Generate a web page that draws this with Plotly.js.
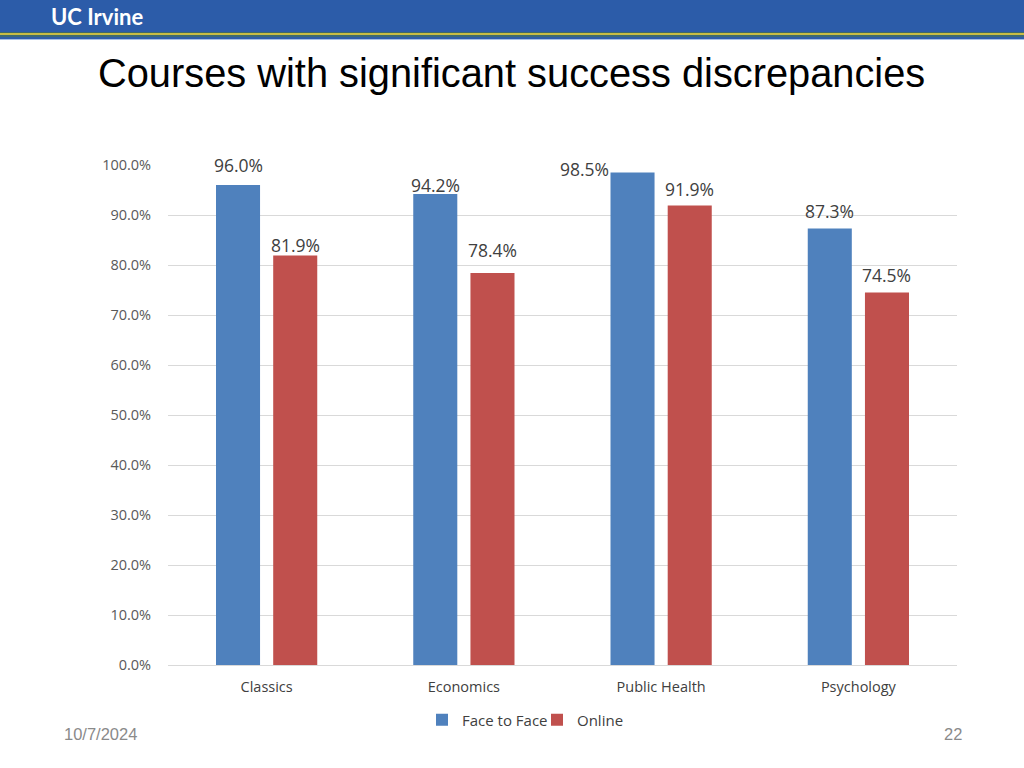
<!DOCTYPE html>
<html>
<head>
<meta charset="utf-8">
<script src="https://cdn.plot.ly/plotly-3.0.1.min.js"></script>
<style>html,body{margin:0;padding:0;background:#fff;}#chart{width:1024px;height:768px;}</style>
</head>
<body>
<div id="chart"></div>
<script>
const categories = ["Classics", "Economics", "Public Health", "Psychology"];
const faceToFace = [96.0, 94.2, 98.5, 87.3];
const online = [81.9, 78.4, 91.9, 74.5];
const seriesNames = ["Face to Face", "Online"];
const yTickVals = [0, 10, 20, 30, 40, 50, 60, 70, 80, 90, 100];

const W = 1024, H = 768;
const M = {l: 168, r: 67, t: 165, b: 103};
const pw = W - M.l - M.r, ph = H - M.t - M.b;
const px = x => (x - M.l) / pw;
const py = y => (H - M.b - y) / ph;

const labelFont = {family: "Open Sans, sans-serif", size: 17.5, color: "#404040"};

// label nudges (pixel offsets) to mirror the reference's label placement
const nudge = {
  "0-0": [0, 12], "0-1": [0, 1], "0-2": [-48, -4], "0-3": [0, 10],
  "1-0": [0, 3], "1-1": [0, 15], "1-2": [0, 9], "1-3": [0, 10]
};

const annotations = [];
[faceToFace, online].forEach((vals, s) => {
  vals.forEach((v, i) => {
    const n = nudge[s + "-" + i] || [0, 0];
    annotations.push({
      x: categories[i], y: v, xref: "x", yref: "y",
      text: v.toFixed(1) + "%", showarrow: false,
      xshift: (s === 0 ? -28.5 : 28.5) + n[0], yshift: -6 + n[1],
      yanchor: "bottom", font: labelFont
    });
  });
});

annotations.push({
  xref: "paper", yref: "paper", x: px(49), y: py(17), xanchor: "left", yanchor: "middle",
  text: "<b>UC Irvine</b>", showarrow: false,
  font: {family: "Lato, Open Sans, sans-serif", size: 22, color: "#ffffff"}
});
annotations.push({
  xref: "paper", yref: "paper", x: px(96), y: py(73), xanchor: "left", yanchor: "middle",
  text: "Courses with significant success discrepancies", showarrow: false,
  font: {family: "Liberation Sans, Arial, sans-serif", size: 39.8, color: "#000000"}
});
annotations.push({
  xref: "paper", yref: "paper", x: px(100), y: py(734), xanchor: "center", yanchor: "middle",
  text: "10/7/2024", showarrow: false,
  font: {family: "Liberation Sans, Arial, sans-serif", size: 16.5, color: "#8a8a8a"}
});
annotations.push({
  xref: "paper", yref: "paper", x: px(953), y: py(734), xanchor: "center", yanchor: "middle",
  text: "22", showarrow: false,
  font: {family: "Liberation Sans, Arial, sans-serif", size: 16.5, color: "#8a8a8a"}
});

function band(y0, y1, color) {
  return {type: "rect", xref: "paper", yref: "paper", x0: px(0), x1: px(W), y0: py(y1), y1: py(y0),
          fillcolor: color, line: {width: 0}, layer: "above"};
}
const shapes = [
  band(0, 32, "#2c5ca9"),
  band(32, 33, "#3f6a6a"),
  band(33, 35, "#c8bd45"),
  band(35, 37, "#3e6b73"),
  band(37, 39, "#2f5eab"),
  band(39, 40, "#a9c1e6")
];

const traces = [
  {type: "bar", name: seriesNames[0], x: categories, y: faceToFace, marker: {color: "#4f81bd"}, hoverinfo: "skip"},
  {type: "bar", name: seriesNames[1], x: categories, y: online, marker: {color: "#c0504d"}, hoverinfo: "skip"}
];

const layout = {
  width: W, height: H,
  margin: M,
  paper_bgcolor: "#ffffff", plot_bgcolor: "#ffffff",
  barmode: "group", bargap: 0.42, bargroupgap: 0.23,
  showlegend: true,
  legend: {orientation: "h", x: px(537), y: py(720), xanchor: "center", yanchor: "middle",
           font: {family: "Open Sans, sans-serif", size: 15, color: "#404040"}, itemwidth: 30,
           entrywidth: 70, traceorder: "normal"},
  xaxis: {
    type: "category", showgrid: false, zeroline: false,
    showline: true, linecolor: "#d9d9d9", linewidth: 1,
    ticks: "outside", ticklen: 9, tickcolor: "rgba(0,0,0,0)",
    tickfont: {family: "Open Sans, sans-serif", size: 14.5, color: "#404040"}
  },
  yaxis: {
    range: [0, 100], tickvals: yTickVals, ticktext: yTickVals.map(v => v.toFixed(1) + "%"),
    showgrid: true, gridcolor: "#d9d9d9", gridwidth: 1, zeroline: false,
    showline: false, ticks: "outside", ticklen: 13, tickcolor: "rgba(0,0,0,0)",
    tickfont: {family: "Open Sans, sans-serif", size: 14.5, color: "#595959"}
  },
  annotations: annotations,
  shapes: shapes
};

Plotly.newPlot("chart", traces, layout, {staticPlot: true, displayModeBar: false});
</script>
</body>
</html>
